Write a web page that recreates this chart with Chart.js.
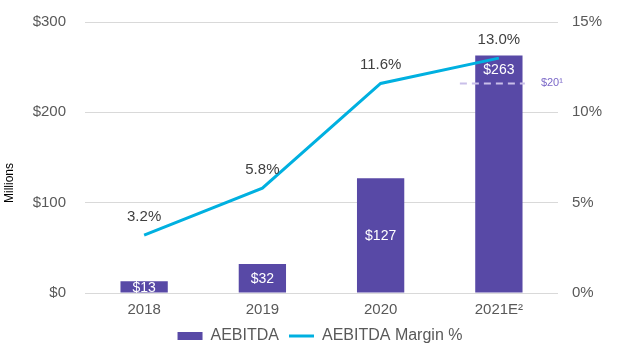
<!DOCTYPE html>
<html>
<head>
<meta charset="utf-8">
<script src="https://cdn.jsdelivr.net/npm/chart.js@4"></script>
<style>
  html, body { margin: 0; padding: 0; background: #fff; }
  #wrap { width: 640px; height: 354px; position: relative; }
</style>
</head>
<body>
<div id="wrap"><canvas id="chart"></canvas></div>
<script>
const years = ["2018", "2019", "2020", "2021E\u00B2"];
const aebitda = [13, 32, 127, 263];
const aebitdaLabels = ["$13", "$32", "$127", "$263"];
const marginPct = [3.2, 5.8, 11.6, 13.0];
const marginLabels = ["3.2%", "5.8%", "11.6%", "13.0%"];
const guideValue = 232; // dashed "$20" marker on the 2021E bar
const guideLabel = "$20\u00B9";

const FONT = "'Liberation Sans', Arial, sans-serif";

// value labels for bars and line points, plus the Millions title and dashed marker
const labelPlugin = {
    id: "labels",
    afterDatasetsDraw(chart) {
        const ctx = chart.ctx;
        const bars = chart.getDatasetMeta(0).data;
        const pts = chart.getDatasetMeta(1).data;
        const y = chart.scales.y;

        ctx.save();
        // dashed marker
        const gy = y.getPixelForValue(guideValue);
        const last = bars[bars.length - 1];
        ctx.strokeStyle = "#c9bfe9";
        ctx.lineWidth = 2;
        ctx.setLineDash([7, 5]);
        ctx.beginPath();
        ctx.moveTo(last.x - 39, gy);
        ctx.lineTo(last.x + 26, gy);
        ctx.stroke();
        ctx.setLineDash([]);
        ctx.fillStyle = "#7b68c8";
        ctx.font = "11px " + FONT;
        ctx.textAlign = "left";
        ctx.textBaseline = "middle";
        ctx.fillText(guideLabel, last.x + 42, gy);

        // bar labels
        ctx.fillStyle = "#ffffff";
        ctx.font = "14px " + FONT;
        ctx.textAlign = "center";
        bars.forEach((b, i) => {
            let ly = (b.y + b.base) / 2 + 1;
            if (i === bars.length - 1) ly = b.y + 15;
            ctx.fillText(aebitdaLabels[i], b.x, ly);
        });

        // line labels
        ctx.fillStyle = "#404040";
        ctx.font = "15px " + FONT;
        ctx.textBaseline = "alphabetic";
        pts.forEach((p, i) => {
            ctx.fillText(marginLabels[i], p.x, p.y - 14);
        });

        // Millions title
        ctx.fillStyle = "#000000";
        ctx.font = "12px " + FONT;
        ctx.translate(10, 183);
        ctx.rotate(-Math.PI / 2);
        ctx.textBaseline = "middle";
        ctx.fillText("Millions", 0, 0);
        ctx.restore();
    }
};

new Chart(document.getElementById("chart"), {
    type: "bar",
    data: {
        labels: years,
        datasets: [
            {
                type: "bar",
                label: "AEBITDA",
                data: aebitda,
                backgroundColor: "#5849a6",
                borderWidth: 0,
                barPercentage: 0.8,
                categoryPercentage: 0.5,
                pointStyle: "rect",
                yAxisID: "y",
                order: 1
            },
            {
                type: "line",
                label: "AEBITDA Margin %",
                data: marginPct,
                borderColor: "#00b0e0",
                backgroundColor: "#00b0e0",
                borderWidth: 3,
                pointRadius: 0,
                pointStyle: "line",
                tension: 0,
                yAxisID: "y1",
                order: 0
            }
        ]
    },
    options: {
        responsive: true,
        maintainAspectRatio: false,
        animation: false,
        layout: { padding: { top: 22, left: 0, right: 0, bottom: 0 } },
        plugins: {
            tooltip: { enabled: false },
            legend: {
                position: "bottom",
                labels: {
                    usePointStyle: true,
                    pointStyleWidth: 25,
                    boxHeight: 8,
                    padding: 10,
                    color: "#595959",
                    font: { family: FONT, size: 16 },
                    sort: (a, b) => a.datasetIndex - b.datasetIndex
                }
            }
        },
        scales: {
            x: {
                offset: true,
                grid: { display: false, drawTicks: false },
                border: { display: false },
                ticks: { color: "#595959", font: { family: FONT, size: 15 }, padding: 8 },
                afterFit(s) { s.height = 25; }
            },
            y: {
                position: "left",
                min: 0,
                max: 300,
                ticks: {
                    stepSize: 100,
                    color: "#595959",
                    font: { family: FONT, size: 15 },
                    padding: 19,
                    callback: v => "$" + v
                },
                grid: { color: "#d9d9d9", drawTicks: false },
                border: { display: false },
                afterFit(s) { s.width = 85; s.paddingTop = 0; s.paddingBottom = 0; }
            },
            y1: {
                position: "right",
                min: 0,
                max: 15,
                ticks: {
                    stepSize: 5,
                    color: "#595959",
                    font: { family: FONT, size: 15 },
                    padding: 14,
                    callback: v => v + "%"
                },
                grid: { display: false, drawTicks: false },
                border: { display: false },
                afterFit(s) { s.width = 82; s.paddingTop = 0; s.paddingBottom = 0; }
            }
        }
    },
    plugins: [labelPlugin]
});
</script>
</body>
</html>
